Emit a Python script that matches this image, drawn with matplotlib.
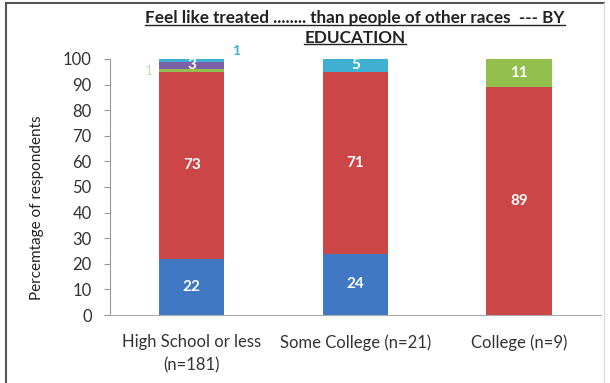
import numpy as np
import matplotlib.pyplot as plt
from matplotlib.lines import Line2D

categories = ['High School or less\n(n=181)', 'Some College (n=21)', 'College (n=9)']
blue_vals = [22, 24, 0]
red_vals = [73, 71, 89]
green_vals = [1, 0, 11]
purple_vals = [3, 0, 0]
cyan_vals = [1, 5, 0]

colors = ['#4178c4', '#cb4646', '#93bf4e', '#7d5fa8', '#3fb0d2']
series = [blue_vals, red_vals, green_vals, purple_vals, cyan_vals]

plt.rcParams['font.family'] = ['Lato', 'DejaVu Sans']

fig = plt.figure(figsize=(6.1, 3.83), dpi=100)
ax = fig.add_axes([0.180, 0.1775, 0.805, 0.6685])

x = np.arange(len(categories))
width = 0.40
bottom = np.zeros(len(categories))
for vals, col in zip(series, colors):
    vals = np.array(vals, dtype=float)
    ax.bar(x, vals, width, bottom=bottom, color=col, edgecolor='none', zorder=2)
    for i, v in enumerate(vals):
        # labels inside segments big enough
        if v >= 3:
            ax.text(x[i], bottom[i] + v / 2, '%d' % v, ha='center', va='center',
                    color='white', fontsize=11, fontweight='bold', zorder=3)
    bottom += vals

# small outside labels for High School
ax.text(x[0] + 0.27, 103, '%d' % cyan_vals[0], ha='center', va='center',
        color='#3fb0d2', fontsize=10, fontweight='bold', clip_on=False)
ax.text(x[0] - 0.26, 95.5, '%d' % green_vals[0], ha='center', va='center',
        color='#c8e0b0', fontsize=10, clip_on=False)

ax.set_xlim(-0.5, 2.5)
ax.set_ylim(0, 100)
ax.set_yticks(range(0, 101, 10))
ax.set_xticks(x)
ax.set_xticklabels(categories, fontsize=12, color='#333333', linespacing=1.5)
ax.tick_params(axis='x', length=0, pad=14)
ax.tick_params(axis='y', direction='out', length=4, color='#999999', pad=9,
               labelsize=12, labelcolor='#333333')
for s in ['top', 'right']:
    ax.spines[s].set_visible(False)
ax.spines['left'].set_color('#999999')
ax.spines['bottom'].set_color('#aaaaaa')
ax.set_ylabel('Percemtage of respondents', fontsize=11, color='#222222')
ax.yaxis.set_label_coords(-0.135, 0.42)

# title with underline
t1 = fig.text(0.582, 0.952, 'Feel like treated ........ than people of other races  --- BY',
              ha='center', va='center', fontsize=12.3, fontweight='bold', color='#222222')
t2 = fig.text(0.582, 0.902, 'EDUCATION', ha='center', va='center',
              fontsize=12.3, fontweight='bold', color='#222222')
fig.canvas.draw()
r = fig.canvas.get_renderer()
inv = fig.transFigure.inverted()
for t in (t1, t2):
    bb = t.get_window_extent(r)
    (x0, y0), (x1, y1) = inv.transform([[bb.x0, bb.y0], [bb.x1, bb.y1]])
    fig.add_artist(Line2D([x0, x1], [y0 + 0.004, y0 + 0.004], color='#222222', lw=1.0,
                          transform=fig.transFigure))

# frame around the picture
fig.add_artist(Line2D([0.01, 0.99], [0.992, 0.992], color='#555555', lw=1.5,
                      transform=fig.transFigure))
fig.add_artist(Line2D([0.01, 0.01], [0.0, 0.992], color='#555555', lw=1.5,
                      transform=fig.transFigure))
fig.add_artist(Line2D([0.99, 0.99], [0.0, 0.992], color='#dddddd', lw=1.0,
                      transform=fig.transFigure))

fig.savefig('out.png', dpi=100)
